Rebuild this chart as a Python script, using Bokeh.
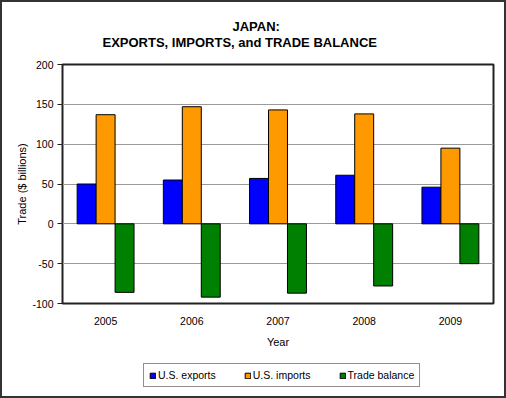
from bokeh.plotting import figure
from bokeh.layouts import column
from bokeh.models import (ColumnDataSource, FactorRange, Legend, LegendItem, Title,
                          FixedTicker, Range1d)
from bokeh.transform import dodge
from bokeh.embed import file_html
from bokeh.resources import INLINE

years = ["2005", "2006", "2007", "2008", "2009"]
exports = [50, 55, 57, 61, 46]
imports = [137, 147, 143, 138, 95]
balance = [-86, -92, -87, -78, -50]
y_ticks = [-100, -50, 0, 50, 100, 150, 200]
series_names = ["U.S. exports", "U.S. imports", "Trade balance"]
colors = ["#0000FF", "#FF9900", "#008000"]

FONT = "Liberation Sans"

src = ColumnDataSource(dict(year=years, exports=exports, imports=imports, balance=balance))

p = figure(x_range=FactorRange(*years), y_range=Range1d(-100, 200),
           width=502, height=352, output_backend="svg", toolbar_location=None,
           min_border_left=60, min_border_right=11, min_border_top=62, min_border_bottom=51)
p.background_fill_color = "white"
p.border_fill_color = "white"
p.outline_line_color = "#222222"
p.outline_line_width = 2

bw = 0.22
p.vbar(x=dodge("year", -bw, range=p.x_range), top="exports", width=bw, source=src,
       fill_color=colors[0], line_color="black", line_width=1)
p.vbar(x=dodge("year", 0, range=p.x_range), top="imports", width=bw, source=src,
       fill_color=colors[1], line_color="black", line_width=1)
p.vbar(x=dodge("year", bw, range=p.x_range), top="balance", width=bw, source=src,
       fill_color=colors[2], line_color="black", line_width=1)

p.xgrid.visible = False
p.ygrid.ticker = FixedTicker(ticks=y_ticks)
p.ygrid.grid_line_color = "#9a9a9a"
p.ygrid.grid_line_width = 1

ya = p.yaxis[0]
ya.ticker = FixedTicker(ticks=y_ticks)
ya.major_label_overrides = {t: str(t) for t in y_ticks}
ya.axis_line_color = None
ya.major_tick_in = 0
ya.major_tick_out = 5
ya.major_tick_line_color = "#222222"
ya.minor_tick_line_color = None
ya.major_label_standoff = 4
ya.major_label_text_font = FONT
ya.major_label_text_font_size = "10.5px"
ya.major_label_text_color = "black"
ya.axis_label = "Trade ($ billions)"
ya.axis_label_text_font = FONT
ya.axis_label_text_font_size = "11px"
ya.axis_label_text_font_style = "normal"
ya.axis_label_text_color = "black"
ya.axis_label_standoff = 1

xa = p.xaxis[0]
xa.axis_line_color = None
xa.major_tick_line_color = None
xa.minor_tick_line_color = None
xa.major_tick_in = 0
xa.major_tick_out = 0
xa.major_label_standoff = 13
xa.major_label_text_font = FONT
xa.major_label_text_font_size = "10.5px"
xa.major_label_text_color = "black"
xa.axis_label = "Year"
xa.axis_label_text_font = FONT
xa.axis_label_text_font_size = "11px"
xa.axis_label_text_font_style = "normal"
xa.axis_label_text_color = "black"
xa.axis_label_standoff = 8

t2 = Title(text="EXPORTS, IMPORTS, and TRADE BALANCE", align="left", offset=40,
           text_font=FONT, text_font_size="13px", text_font_style="bold",
           text_color="black", standoff=30)
t1 = Title(text="JAPAN:", align="left", offset=170,
           text_font=FONT, text_font_size="13px", text_font_style="bold",
           text_color="black", standoff=-32)
p.add_layout(t2, "above")
p.add_layout(t1, "above")

# legend strip below the chart
pl = figure(width=502, height=42, output_backend="svg", toolbar_location=None,
            x_range=Range1d(0, 1), y_range=Range1d(0, 1),
            x_axis_location=None, y_axis_location=None,
            min_border_left=0, min_border_right=0, min_border_top=0, min_border_bottom=0)
pl.outline_line_color = None
pl.grid.visible = False
pl.background_fill_color = "white"
pl.border_fill_color = "white"
items = []
for name, c in zip(series_names, colors):
    rr = pl.vbar(x=[0.5], top=[0.5], width=0.1, fill_color=c, line_color="black",
                 line_width=1, visible=False)
    items.append(LegendItem(label=name, renderers=[rr]))

legend = Legend(items=items, orientation="horizontal", location=(81, 9),
                glyph_width=7, glyph_height=7, label_standoff=2, spacing=28,
                padding=5, margin=0, label_height=9,
                label_text_font=FONT, label_text_font_size="10.5px",
                label_text_color="black",
                border_line_color="#222222", border_line_width=1,
                background_fill_color="white", background_fill_alpha=1)
pl.add_layout(legend, "center")

lay = column(p, pl, spacing=0)
lay.styles = {"border": "2px solid #333333"}

open("out.html", "w").write(file_html(lay, INLINE))
